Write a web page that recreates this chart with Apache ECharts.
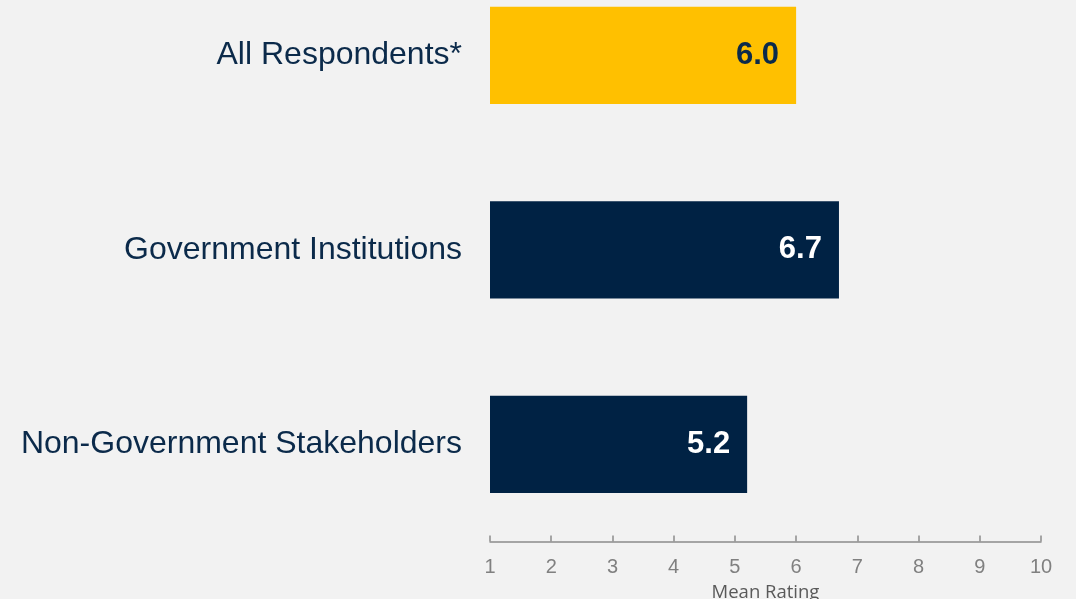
<!DOCTYPE html>
<html><head><meta charset="utf-8">
<script src="https://cdn.jsdelivr.net/npm/echarts@6/dist/echarts.min.js"></script>
<style>html,body{margin:0;padding:0;background:#f2f2f2;}#c{width:1076px;height:599px;}</style>
</head><body><div id="c"></div>
<script>
const categories = ['All Respondents*', 'Government Institutions', 'Non-Government Stakeholders'];
const values = [6.0, 6.7, 5.2];
const barColors = ['#FFC000', '#002244', '#002244'];
const labelColors = ['#0b2a4a', '#ffffff', '#ffffff'];
const axisTitle = 'Mean Rating';

const chart = echarts.init(document.getElementById('c'));
chart.setOption({
  backgroundColor: '#f2f2f2',
  animation: false,
  grid: { left: 490, right: 35, top: -42, bottom: 57.5, containLabel: false, outerBoundsMode: 'none' },
  xAxis: {
    type: 'value', min: 1, max: 10, interval: 1,
    name: axisTitle, nameLocation: 'middle', nameGap: 42,
    nameTextStyle: { color: '#595959', fontSize: 18.5, fontFamily: 'Open Sans' },
    axisLine: { show: true, lineStyle: { color: '#8c8c8c', width: 1.5 } },
    axisTick: { show: true, inside: true, length: 6, lineStyle: { color: '#8c8c8c', width: 1.5 } },
    axisLabel: { color: '#808080', fontSize: 20, fontFamily: 'Liberation Sans', margin: 16 },
    splitLine: { show: false }
  },
  yAxis: {
    type: 'category', data: categories, inverse: true,
    axisLine: { show: false }, axisTick: { show: false },
    axisLabel: { color: '#0b2a4a', fontSize: 32, fontFamily: 'Liberation Sans', margin: 28, padding: [3, 0, 0, 0] }
  },
  series: [{
    type: 'bar', barWidth: '50%',
    data: values.map((v, i) => ({
      value: v,
      itemStyle: { color: barColors[i] },
      label: { color: labelColors[i] }
    })),
    label: {
      show: true, position: 'insideRight', distance: 17,
      fontSize: 31, fontWeight: 'bold', fontFamily: 'Liberation Sans',
      formatter: p => p.value.toFixed(1)
    }
  }]
});
</script></body></html>
